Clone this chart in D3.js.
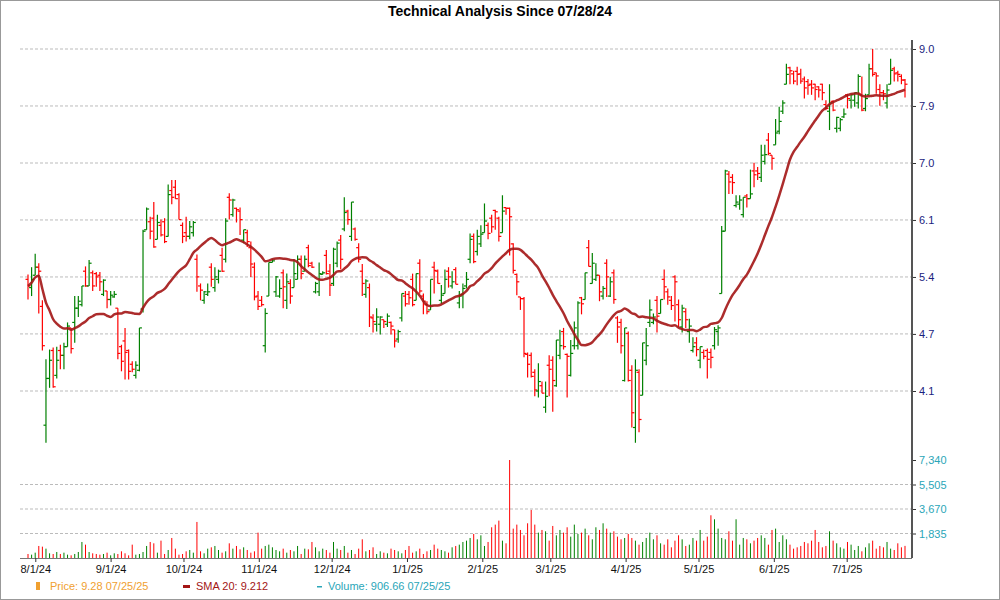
<!DOCTYPE html>
<html>
<head>
<meta charset="utf-8">
<script src="https://cdn.jsdelivr.net/npm/d3@7"></script>
<style>
  body { margin: 0; background: #fff; }
  svg { font-family: "Liberation Sans", Arial, sans-serif; }
</style>
</head>
<body>
<svg id="chart" width="1000" height="600"></svg>
<script>
// daily bars, 7/29/24 .. 7/25/25
const opens = [5.30,5.20,5.35,5.45,4.98,3.79,4.22,4.50,4.25,4.50,4.45,4.54,4.74,4.80,4.96,5.00,5.40,5.22,5.38,5.37,5.35,5.12,5.16,5.06,5.09,
  4.96,4.54,4.60,4.50,4.36,4.25,4.30,4.95,5.94,6.05,6.10,5.81,6.00,6.05,5.85,6.50,6.55,6.44,6.00,5.90,
  5.85,5.90,5.55,5.22,5.05,5.12,5.45,5.20,5.30,5.60,5.55,6.40,6.15,6.24,6.20,5.80,5.90,5.70,5.45,5.10,5.05,4.55,5.10,
  5.51,5.15,5.10,5.38,5.05,5.25,5.20,5.30,5.55,5.40,5.70,5.50,5.15,5.15,5.36,5.60,5.40,
  5.25,5.50,5.80,5.95,6.20,5.85,5.95,5.70,5.40,5.12,5.20,4.85,4.78,4.78,4.83,4.78,4.80,4.72,4.62,
  4.85,5.10,5.12,5.30,5.05,5.50,5.10,5.00,4.94,5.45,5.40,5.05,5.13,5.40,5.22,5.42,5.02,5.12,5.22,
  5.55,5.85,5.65,5.75,5.90,6.00,6.10,6.21,6.10,5.90,6.25,6.24,5.75,5.36,5.09,5.07,4.46,
  4.45,4.28,4.10,4.15,3.95,4.35,4.40,4.15,4.45,4.70,4.46,4.25,4.55,4.55,5.08,5.06,5.70,5.25,5.30,5.35,5.10,
  5.50,5.10,5.38,4.85,4.80,4.20,4.68,4.30,3.77,4.28,4.06,4.40,4.80,4.80,5.05,4.90,5.30,5.15,5.05,5.33,5.00,4.75,4.92,4.70,
  4.50,4.58,4.40,4.48,4.50,4.48,4.55,4.70,5.13,5.92,6.75,6.70,6.28,6.30,6.15,6.42,6.38,6.80,6.80,
  6.70,6.95,7.30,7.05,7.22,7.45,7.80,8.30,8.62,8.50,8.55,8.50,8.40,8.35,8.30,8.30,8.25,8.30,7.92,
  7.80,7.98,7.50,7.50,7.70,8.10,8.00,8.00,7.95,8.10,7.85,8.10,8.60,8.52,8.20,8.14,7.95,8.30,8.60,8.52,8.45,8.38];
const highs = [5.36,5.45,5.62,5.50,5.05,4.41,4.51,4.53,4.54,4.56,4.58,4.80,4.74,5.10,5.10,5.22,5.46,5.54,5.41,5.39,5.39,5.30,5.16,5.16,5.16,
  4.96,4.56,4.74,4.51,4.39,4.39,4.74,5.94,6.25,6.12,6.33,6.15,6.08,6.10,6.59,6.66,6.66,6.46,6.04,6.12,
  6.06,6.06,5.61,5.25,5.16,5.25,5.50,5.45,5.42,5.70,6.10,6.46,6.38,6.25,6.25,5.94,5.94,5.78,5.51,5.16,5.10,4.96,5.51,
  5.55,5.34,5.30,5.42,5.37,5.30,5.55,5.60,5.60,5.60,5.74,5.52,5.27,5.51,5.40,5.67,5.49,
  5.70,5.78,5.87,6.40,6.22,6.33,5.97,5.76,5.49,5.30,5.25,4.89,4.96,4.87,4.83,4.90,4.81,4.72,4.72,
  5.13,5.16,5.16,5.37,5.37,5.55,5.13,5.04,5.30,5.52,5.42,5.23,5.42,5.45,5.40,5.45,5.16,5.25,5.39,
  5.89,5.89,5.94,6.00,6.31,6.04,6.15,6.22,6.12,6.43,6.25,6.25,5.76,5.37,5.09,5.09,4.48,
  4.48,4.31,4.37,4.19,4.19,4.45,4.44,4.61,4.72,4.74,4.47,4.61,4.81,5.04,5.09,5.38,5.80,5.63,5.50,5.35,5.22,
  5.55,5.33,5.42,4.87,4.84,4.74,4.70,4.35,4.41,4.31,4.58,4.74,5.06,4.90,5.10,5.06,5.42,5.19,5.10,5.35,5.06,5.00,4.96,4.84,
  4.64,4.64,4.54,4.51,4.52,4.52,4.75,4.77,5.99,6.82,6.80,6.75,6.43,6.43,6.40,6.45,6.82,6.93,6.86,
  7.22,7.22,7.42,7.05,7.66,7.88,8.00,8.70,8.64,8.56,8.64,8.60,8.45,8.40,8.38,8.31,8.26,8.31,8.00,
  8.30,8.00,7.70,7.68,7.85,8.12,8.10,8.14,8.49,8.45,8.12,8.70,9.00,8.52,8.30,8.19,8.30,8.80,8.64,8.56,8.49,8.40];
const lows = [5.06,5.10,5.35,4.90,4.50,3.64,4.13,4.13,4.22,4.31,4.31,4.54,4.47,4.58,4.86,4.98,5.21,5.22,5.16,5.21,5.16,5.10,4.96,4.99,5.08,
  4.41,4.29,4.21,4.21,4.28,4.22,4.29,4.91,5.94,5.81,5.70,5.81,5.85,5.76,5.85,6.30,6.38,6.08,5.76,5.78,
  5.81,5.85,5.15,5.05,5.01,5.10,5.21,5.15,5.25,5.39,5.51,6.08,6.12,6.04,5.87,5.76,5.71,5.33,5.05,4.94,4.98,4.48,5.10,
  5.51,5.09,5.08,4.96,4.95,5.01,5.20,5.30,5.30,5.40,5.45,5.44,5.13,5.10,5.36,5.36,5.10,
  5.22,5.45,5.42,5.92,6.01,5.79,5.79,5.51,5.10,5.08,4.75,4.69,4.70,4.67,4.74,4.75,4.67,4.53,4.58,
  4.81,4.98,5.00,4.98,5.05,5.13,4.89,4.89,4.94,5.13,5.25,5.01,5.13,5.20,5.19,5.24,4.96,4.96,5.19,
  5.50,5.50,5.60,5.71,5.90,5.81,5.90,5.94,5.78,5.90,6.15,5.60,5.37,5.11,4.94,4.43,4.23,
  4.23,4.05,4.04,4.08,3.90,4.05,3.91,4.14,4.41,4.51,4.04,4.24,4.51,4.51,4.89,5.06,5.46,5.25,5.28,5.04,5.06,
  5.09,5.09,5.01,4.58,4.47,4.19,4.19,3.77,3.64,3.73,4.06,4.35,4.75,4.78,4.69,4.90,5.06,5.00,4.94,4.81,4.75,4.69,4.74,4.58,
  4.48,4.44,4.32,4.41,4.22,4.32,4.51,4.55,5.13,5.92,6.45,6.45,6.25,6.22,6.11,6.25,6.38,6.55,6.66,
  6.63,6.90,7.05,6.82,7.22,7.40,7.75,8.30,8.30,8.30,8.28,8.31,8.03,8.10,8.10,8.00,8.05,8.00,7.82,
  7.47,7.80,7.43,7.45,7.68,7.85,7.85,7.88,7.85,7.80,7.80,8.10,8.45,8.12,7.90,8.00,7.85,8.30,8.35,8.35,8.30,8.05];
const closes = [5.22,5.30,5.45,5.40,4.55,4.22,4.40,4.14,4.40,4.45,4.54,4.76,4.52,4.96,5.04,5.22,5.22,5.50,5.22,5.33,5.27,5.29,5.06,5.11,5.12,
  4.47,4.39,4.48,4.29,4.31,4.35,4.74,5.92,6.23,5.92,5.71,6.04,5.87,5.78,6.44,6.40,6.38,6.08,5.85,5.85,
  5.98,6.04,5.33,5.17,5.15,5.15,5.30,5.33,5.40,5.40,6.06,6.36,6.36,6.22,6.08,5.94,5.78,5.49,5.09,4.98,5.00,4.90,5.51,
  5.53,5.33,5.19,5.21,5.27,5.10,5.37,5.55,5.37,5.55,5.47,5.45,5.25,5.37,5.38,5.37,5.23,
  5.68,5.76,5.55,6.18,6.08,6.33,5.81,5.55,5.25,5.28,4.86,4.81,4.86,4.86,4.81,4.87,4.76,4.60,4.70,
  5.13,5.01,5.08,5.00,5.37,5.16,5.04,4.92,5.30,5.41,5.25,5.11,5.30,5.33,5.27,5.24,5.10,5.19,5.30,
  5.81,5.52,5.85,5.88,6.06,5.89,5.98,6.19,5.85,6.20,6.24,6.12,5.41,5.27,5.07,4.47,4.36,
  4.24,4.11,4.19,4.08,4.05,4.31,4.20,4.61,4.55,4.54,4.44,4.47,4.74,5.02,5.01,5.38,5.46,5.50,5.35,5.15,5.19,
  5.33,5.27,5.06,4.75,4.55,4.74,4.20,3.90,4.30,3.84,4.58,4.55,4.94,4.86,4.87,5.06,5.21,5.09,4.99,5.27,4.83,4.96,4.83,4.76,
  4.54,4.51,4.54,4.44,4.41,4.43,4.72,4.74,5.92,6.80,6.63,6.62,6.33,6.36,6.40,6.38,6.45,6.74,6.76,
  7.05,7.06,7.08,7.00,7.42,7.62,7.95,8.49,8.56,8.36,8.49,8.36,8.23,8.28,8.23,8.20,8.19,8.14,7.85,
  7.95,7.82,7.69,7.65,7.75,8.03,8.10,8.14,8.45,7.82,8.03,8.60,8.49,8.46,8.14,8.12,8.19,8.57,8.50,8.49,8.38,8.30];
const volumes = [300,250,400,900,850,700,350,300,450,300,400,250,200,300,450,1200,1000,450,350,300,250,300,400,200,350,
  300,500,350,200,1000,250,300,450,900,1200,1100,400,1300,300,600,1500,700,250,300,500,
  600,400,2700,500,350,700,800,900,600,400,500,1100,700,900,650,800,600,400,500,1900,700,900,1000,
  800,600,500,700,400,600,500,900,300,700,650,1200,800,500,700,600,400,
  1200,700,600,900,400,600,300,700,1400,500,600,800,300,500,400,350,700,600,500,
  350,600,900,400,500,700,300,500,600,1000,700,600,500,400,800,900,1000,1200,1300,
  1500,1800,1400,1700,900,1200,2300,2500,2800,1300,1100,7340,2200,2500,2100,1700,2600,
  3600,2500,1900,2100,2000,1300,2400,1700,2100,1900,2300,1600,2500,1800,1900,2200,1700,1400,2300,2100,2600,
  2200,1900,2000,1600,1400,1500,1800,1500,1300,1000,1200,1500,1900,1400,1700,1100,1000,1400,800,1300,1700,1400,900,1000,
  1500,1300,2100,1300,1600,3200,2900,2200,1500,1400,2000,1300,2900,1000,1500,1400,1100,1300,1500,
  1700,1500,1000,2100,2200,1200,1700,1400,1000,700,800,900,1200,1100,1300,2100,1200,800,900,
  2000,1300,1100,800,700,1200,1000,600,900,500,800,1100,1300,700,900,800,1200,700,600,1100,800,907];

const firstDate = "2024-07-29", lastDate = "2025-07-25";
const monthLabels = ["8/1/24","9/1/24","10/1/24","11/1/24","12/1/24","1/1/25","2/1/25","3/1/25","4/1/25","5/1/25","6/1/25","7/1/25"];
const priceTickVals = [9.0, 7.895, 6.925, 6.075, 5.329, 4.675, 4.10];
const priceTickLabels = ["9.0","7.9","7.0","6.1","5.4","4.7","4.1"];
const volTicks = [1835, 3670, 5505, 7340];
const smaPeriod = 20;

const svg = d3.select("#chart");
const parse = d3.timeParse("%-m/%-d/%y");

svg.append("rect").attr("x",0.5).attr("y",0.5).attr("width",999).attr("height",599)
  .attr("fill","none").attr("stroke","#999");

svg.append("text").attr("x",500).attr("y",16).attr("text-anchor","middle")
  .style("font-size","14px").style("font-weight","bold").text("Technical Analysis Since 07/28/24");

const n = closes.length;
const xi = d3.scaleLinear().domain([0, n-1]).range([28, 905]);
const xt = d3.scaleTime().domain([new Date(firstDate), new Date(lastDate)]).range([28, 905]);
const y = d3.scaleLog().domain([4.10, 9.0]).range([391, 49]);
const yv = d3.scaleLinear().domain([0, 7340]).range([558, 460]);

const left = 20, right = 912;

// grid
svg.append("g").selectAll("line").data(priceTickVals).enter().append("line")
  .attr("x1",left).attr("x2",right).attr("y1",d=>y(d)).attr("y2",d=>y(d))
  .attr("stroke","#bbb").attr("stroke-dasharray","3,2");
svg.append("g").selectAll("line").data(volTicks.slice(0,3)).enter().append("line")
  .attr("x1",left).attr("x2",right).attr("y1",d=>yv(d)).attr("y2",d=>yv(d))
  .attr("stroke","#bbb").attr("stroke-dasharray","3,2");

// right axes
const yAxis = d3.axisRight(y).tickValues(priceTickVals).tickSize(4)
  .tickFormat((d,i) => priceTickLabels[i]);
const ga = svg.append("g").attr("transform",`translate(${right},0)`).call(yAxis);
ga.select(".domain").remove();
ga.selectAll("text").attr("fill","#1a237e").style("font-size","11px");
ga.selectAll("line").attr("stroke","#333");

const vAxis = d3.axisRight(yv).tickValues(volTicks).tickSize(4).tickFormat(d3.format(","));
const gv = svg.append("g").attr("transform",`translate(${right},0)`).call(vAxis);
gv.select(".domain").remove();
gv.selectAll("text").attr("fill","#2aa6b8").style("font-size","11px");
gv.selectAll("line").attr("stroke","#333");

svg.append("line").attr("x1",right).attr("x2",right).attr("y1",40).attr("y2",558)
  .attr("stroke","#555").attr("stroke-width",2);

// x axis
svg.append("line").attr("x1",left).attr("x2",right).attr("y1",558.5).attr("y2",558.5).attr("stroke","#777");
const xAxis = d3.axisBottom(xt).tickValues(monthLabels.map(parse)).tickSize(4)
  .tickFormat((d,i) => monthLabels[i]);
const gx = svg.append("g").attr("transform","translate(0,558)").call(xAxis);
gx.select(".domain").remove();
gx.selectAll("text").attr("fill","#111").style("font-size","11px");
gx.selectAll("line").attr("stroke","#333");

// OHLC bars
const colr = i => closes[i] >= opens[i] ? "#008000" : "#ff0000";
const bars = svg.append("g").selectAll("g").data(d3.range(n)).enter().append("g")
  .attr("stroke", colr).attr("stroke-width", 1.2);
bars.append("line").attr("x1",i=>xi(i)).attr("x2",i=>xi(i))
  .attr("y1",i=>y(highs[i])).attr("y2",i=>y(lows[i]));
bars.append("line").attr("x1",i=>xi(i)-2.5).attr("x2",i=>xi(i))
  .attr("y1",i=>y(opens[i])).attr("y2",i=>y(opens[i]));
bars.append("line").attr("x1",i=>xi(i)).attr("x2",i=>xi(i)+2.5)
  .attr("y1",i=>y(closes[i])).attr("y2",i=>y(closes[i]));

// SMA 20
const sma = d3.range(n).map(i => d3.mean(closes.slice(Math.max(0, i-smaPeriod+1), i+1)));
svg.append("path").datum(sma)
  .attr("d", d3.line().x((d,i)=>xi(i)).y(d=>y(d)).curve(d3.curveMonotoneX))
  .attr("fill","none").attr("stroke","#a31515").attr("stroke-width",2.5).attr("stroke-opacity",0.9);

// volume
svg.append("g").selectAll("line").data(d3.range(n)).enter().append("line")
  .attr("x1",i=>xi(i)).attr("x2",i=>xi(i)).attr("y1",yv(0)).attr("y2",i=>yv(volumes[i]))
  .attr("stroke", colr).attr("stroke-width",1);

// legend
const lg = svg.append("g").style("font-size","11px");
lg.append("rect").attr("x",36).attr("y",582).attr("width",4).attr("height",8).attr("fill","#f0a030");
lg.append("text").attr("x",50).attr("y",590).attr("fill","#f0a030").text("Price: 9.28  07/25/25");
lg.append("rect").attr("x",183).attr("y",585).attr("width",7).attr("height",3).attr("fill","#a31515");
lg.append("text").attr("x",196).attr("y",590).attr("fill","#a31515").text("SMA 20: 9.212");
lg.append("rect").attr("x",317).attr("y",586).attr("width",5).attr("height",1.5).attr("fill","#2aa6b8");
lg.append("text").attr("x",328).attr("y",590).attr("fill","#2aa6b8").text("Volume: 906.66  07/25/25");
</script>
</body>
</html>
